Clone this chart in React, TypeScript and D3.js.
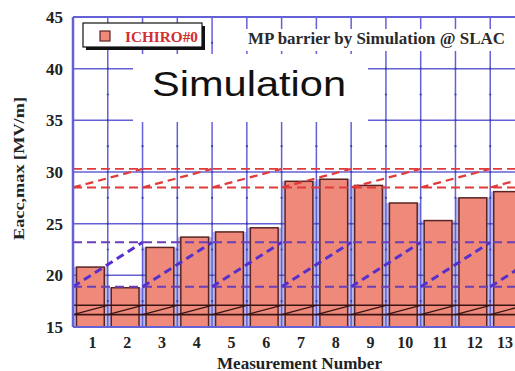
import React from 'react';
import * as d3 from 'd3';

const categories = ['1', '2', '3', '4', '5', '6', '7', '8', '9', '10', '11', '12', '13'];
const values = [20.8, 18.8, 22.7, 23.7, 24.2, 24.6, 29.1, 29.3, 28.7, 27.0, 25.3, 27.5, 28.1];
const yTicks = [15, 20, 25, 30, 35, 40, 45];
const redLevels = [28.5, 30.3];
const blueLevels = [18.9, 23.2];
const blackLevels = [16.2, 17.1];
const rampStarts2 = [0, 2, 4, 6, 8, 10, 12];
const rampStarts1 = [0, 1, 2, 3, 4, 5, 6, 7, 8, 9, 10, 11, 12];
const legendLabel = 'ICHIRO#0';
const titleText = 'MP barrier by Simulation @ SLAC';
const overlayText = 'Simulation';
const xLabel = 'Measurement Number';
const yLabel = 'Eacc,max [MV/m]';

const W = 515, H = 371;
const L = 73, R = 525, T = 17, B = 327;
const GRID = '#6461d6';
const SERIF = '"Liberation Serif", "Times New Roman", serif';

export default function App() {
  const x = d3.scaleBand<string>().domain(categories).range([L, R]).padding(0);
  const bw = x.bandwidth();
  const xb = d3.scaleLinear().domain([0, categories.length]).range([L, R]);
  const y = d3.scaleLinear().domain([15, 45]).range([B, T]);
  const inset = 3.5;
  const line = d3.line<[number, number]>().x(d => xb(d[0])).y(d => y(d[1]));

  const dots: [number, number][] = [];
  for (let k = 1; k <= categories.length; k++) {
    for (let v = 15; v <= 45; v += 2.5) dots.push([xb(k), y(v)]);
  }

  return (
    <svg width={W} height={H} style={{ position: 'absolute', left: 0, top: 0, background: '#fff' }}>
      <defs>
        <clipPath id="plot"><rect x={L} y={T} width={R - L} height={B - T} /></clipPath>
      </defs>
      <g clipPath="url(#plot)">
        {categories.map((c, i) => (
          <rect key={'lav' + c} x={x(c)} y={y(values[i])} width={bw} height={y(15) - y(values[i])} fill="#b9b9ec" />
        ))}
        {yTicks.map(t => (
          <line key={'h' + t} x1={L} x2={R} y1={y(t)} y2={y(t)} stroke={GRID} strokeWidth={1.5} />
        ))}
        {categories.map((c, i) => (
          <line key={'v' + c} x1={xb(i + 1)} x2={xb(i + 1)} y1={T} y2={B} stroke={GRID} strokeWidth={1.5} />
        ))}
        {dots.map((d, i) => <circle key={'d' + i} cx={d[0]} cy={d[1]} r={1.1} fill="#4040a8" />)}
        {categories.map((c, i) => (
          <rect key={'bar' + c} x={(x(c) as number) + inset} y={y(values[i])} width={bw - 2 * inset}
            height={y(15) - y(values[i])} fill="#ef8a7b" stroke="#5a2424" strokeWidth={1.5} />
        ))}
        {/* white overlay boxes */}
        <rect x={133} y={54} width={235} height={68} fill="#fff" />
        <rect x={244} y={29} width={290} height={22} fill="#fff" />
        {/* black reference lines */}
        {blackLevels.map(v => (
          <line key={'bk' + v} x1={L} x2={R} y1={y(v)} y2={y(v)} stroke="#3a1414" strokeWidth={1.6} />
        ))}
        {rampStarts1.map(s => (
          <path key={'bkr' + s} d={line([[s, blackLevels[0]], [s + 1, blackLevels[1]]]) || ''} stroke="#3a1414" strokeWidth={1.3} fill="none" />
        ))}
        {/* blue reference lines */}
        {blueLevels.map(v => (
          <line key={'bl' + v} x1={L} x2={R} y1={y(v)} y2={y(v)} stroke="#6a3fb8" strokeWidth={2} strokeDasharray="9 5" />
        ))}
        {rampStarts2.map(s => (
          <path key={'blr' + s} d={line([[s, blueLevels[0]], [s + 2, blueLevels[1]]]) || ''} stroke="#5530cc" strokeWidth={3} strokeDasharray="8 5" fill="none" />
        ))}
        {/* red reference lines */}
        {redLevels.map(v => (
          <line key={'rd' + v} x1={L} x2={R} y1={y(v)} y2={y(v)} stroke="#e03a3a" strokeWidth={1.8} strokeDasharray="9 5" />
        ))}
        {rampStarts2.map(s => (
          <path key={'rdr' + s} d={line([[s, redLevels[0]], [s + 2, redLevels[1]]]) || ''} stroke="#e03a3a" strokeWidth={2.2} strokeDasharray="8 5" fill="none" />
        ))}
      </g>
      {/* plot borders */}
      <line x1={L} x2={L} y1={T} y2={B} stroke={GRID} strokeWidth={2.5} />
      <line x1={L} x2={R} y1={T} y2={T} stroke={GRID} strokeWidth={2} />
      <line x1={L} x2={R} y1={B} y2={B} stroke={GRID} strokeWidth={2} />

      {/* title */}
      <text x={248} y={44} fontFamily={SERIF} fontWeight="bold" fontSize={16.5} fill="#2a2a2a"
        textLength={257} lengthAdjust="spacingAndGlyphs">{titleText}</text>
      {/* overlay */}
      <text x={152} y={96} fontFamily='"Liberation Sans", Arial, sans-serif' fontSize={35} fill="#111"
        textLength={194} lengthAdjust="spacingAndGlyphs">{overlayText}</text>

      {/* legend */}
      <rect x={86} y={26} width={119} height={24} fill="#111" />
      <rect x={83} y={23} width={119} height={24} fill="#fff" stroke="#111" strokeWidth={1.2} />
      <rect x={100} y={31} width={10} height={10} fill="#ef8a7b" stroke="#5a2424" strokeWidth={1.2} />
      <text x={125} y={42} fontFamily={SERIF} fontWeight="bold" fontSize={15} fill="#d03030"
        textLength={73} lengthAdjust="spacingAndGlyphs">{legendLabel}</text>

      {/* y tick labels */}
      {yTicks.map(t => (
        <text key={'yt' + t} x={63} y={y(t)} dy="0.35em" textAnchor="end" fontFamily={SERIF}
          fontWeight="bold" fontSize={17} fill="#222">{t}</text>
      ))}
      {/* x tick labels */}
      {categories.map(c => {
        const cx = Math.min((x(c) as number) + bw / 2 + 2, W - 10);
        return (
          <text key={'xt' + c} x={cx} y={348} textAnchor="middle" fontFamily={SERIF}
            fontWeight="bold" fontSize={16} fill="#222">{c}</text>
        );
      })}
      {/* axis labels */}
      <text x={217} y={369} fontFamily={SERIF} fontWeight="bold" fontSize={16} fill="#222"
        textLength={165} lengthAdjust="spacingAndGlyphs">{xLabel}</text>
      <text transform="translate(24,240) rotate(-90)" x={0} y={0} fontFamily={SERIF} fontWeight="bold"
        fontSize={14} fill="#222" textLength={143} lengthAdjust="spacingAndGlyphs">{yLabel}</text>
    </svg>
  );
}
